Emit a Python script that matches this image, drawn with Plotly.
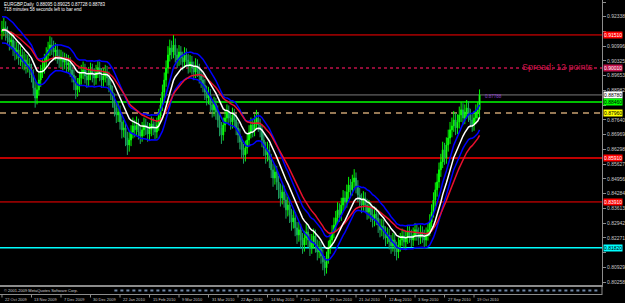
import plotly.graph_objects as go
import pandas as pd

# ---------------- data ----------------
header_text = "EURGBP,Daily  0.88095 0.89025 0.87728 0.88783"
timer_text = "718 minutes 58 seconds left to bar end"
spread_text = "Spread: 12 points"
copyright_text = "© 2001-2009 MetaQuotes Software Corp."
last_tag_text = "0.87788"

first_open_pips = 9165
close_pips = [
    9174, 9183, 9160, 9137, 9119, 9128, 9092, 9073, 9083, 9046,
    9060, 9028, 9037, 9010, 9019, 8992, 8969, 8910, 8864, 8901,
    8946, 8982, 9001, 9028, 9060, 9083, 9105, 9092, 9073, 9083,
    9055, 9037, 9046, 9028, 9037, 9014, 9023, 8992, 8969, 8937,
    8901, 8919, 8955, 8982, 8992, 8964, 8946, 8973, 8992, 8969,
    8955, 8982, 9001, 8973, 8946, 8964, 8982, 8955, 8923, 8891,
    8855, 8819, 8787, 8800, 8755, 8719, 8728, 8682, 8650, 8673,
    8709, 8737, 8719, 8741, 8709, 8691, 8719, 8741, 8728, 8700,
    8719, 8746, 8728, 8709, 8741, 8782, 8832, 8891, 8946, 9001,
    9060, 9092, 9073, 9105, 9060, 9037, 9073, 9046, 9028, 9060,
    9037, 9010, 9028, 9001, 8982, 9010, 8992, 8964, 8946, 8923,
    8891, 8864, 8878, 8832, 8810, 8837, 8800, 8764, 8728, 8696,
    8741, 8773, 8800, 8773, 8755, 8787, 8764, 8728, 8696, 8664,
    8628, 8605, 8637, 8673, 8709, 8741, 8719, 8755, 8773, 8741,
    8719, 8673, 8637, 8605, 8628, 8582, 8537, 8500, 8527, 8482,
    8446, 8409, 8436, 8400, 8355, 8377, 8332, 8300, 8318, 8273,
    8241, 8264, 8218, 8195, 8227, 8254, 8218, 8182, 8209, 8236,
    8195, 8163, 8182, 8145, 8118, 8091, 8136, 8182, 8218, 8254,
    8286, 8318, 8355, 8332, 8377, 8409, 8391, 8436, 8468, 8446,
    8482, 8500, 8464, 8423, 8400, 8377, 8409, 8377, 8345, 8364,
    8332, 8309, 8336, 8318, 8286, 8264, 8282, 8254, 8227, 8241,
    8209, 8191, 8218, 8182, 8163, 8195, 8218, 8236, 8209, 8227,
    8254, 8236, 8218, 8241, 8264, 8245, 8227, 8254, 8236, 8218,
    8241, 8264, 8300, 8345, 8400, 8446, 8482, 8537, 8573, 8628,
    8591, 8650, 8682, 8719, 8737, 8764, 8728, 8755, 8787, 8810,
    8773, 8800, 8819, 8787, 8764, 8741, 8773, 8800, 8810, 8878,
]
high_pips = [
    9215, 9230, 9213, 9190, 9165, 9167, 9155, 9125, 9120, 9110,
    9100, 9087, 9075, 9065, 9060, 9045, 9020, 8995, 8940, 8935,
    8980, 9015, 9040, 9065, 9095, 9120, 9145, 9140, 9125, 9115,
    9110, 9085, 9083, 9075, 9070, 9065, 9060, 9050, 9020, 8995,
    8965, 8955, 8985, 9015, 9030, 9020, 8990, 9005, 9025, 9020,
    9000, 9015, 9035, 9030, 9000, 9000, 9015, 9010, 8985, 8950,
    8920, 8885, 8845, 8840, 8830, 8785, 8765, 8755, 8710, 8710,
    8740, 8775, 8765, 8780, 8770, 8735, 8755, 8775, 8770, 8755,
    8750, 8780, 8775, 8755, 8775, 8815, 8865, 8925, 8980, 9035,
    9100, 9130, 9125, 9150, 9135, 9090, 9105, 9100, 9075, 9095,
    9090, 9065, 9060, 9055, 9030, 9045, 9040, 9020, 8995, 8975,
    8950, 8920, 8915, 8905, 8860, 8870, 8865, 8830, 8790, 8755,
    8775, 8805, 8835, 8830, 8800, 8820, 8815, 8790, 8755, 8725,
    8690, 8655, 8670, 8705, 8740, 8775, 8770, 8790, 8810, 8800,
    8770, 8745, 8700, 8665, 8665, 8655, 8610, 8565, 8560, 8555,
    8510, 8475, 8470, 8465, 8430, 8415, 8405, 8360, 8355, 8345,
    8300, 8300, 8290, 8250, 8260, 8290, 8280, 8245, 8245, 8270,
    8265, 8220, 8215, 8210, 8175, 8145, 8165, 8215, 8250, 8285,
    8320, 8350, 8390, 8385, 8410, 8445, 8440, 8470, 8505, 8495,
    8515, 8540, 8525, 8490, 8455, 8430, 8440, 8435, 8405, 8400,
    8390, 8360, 8370, 8365, 8345, 8315, 8315, 8310, 8280, 8275,
    8270, 8240, 8250, 8245, 8210, 8230, 8250, 8270, 8265, 8260,
    8285, 8280, 8265, 8275, 8295, 8290, 8275, 8285, 8280, 8265,
    8275, 8295, 8335, 8380, 8435, 8480, 8520, 8570, 8610, 8665,
    8660, 8685, 8720, 8755, 8775, 8805, 8795, 8790, 8825, 8845,
    8840, 8835, 8855, 8850, 8815, 8795, 8805, 8835, 8845, 8903,
]
low_pips = [
    9130, 9145, 9125, 9105, 9080, 9085, 9055, 9035, 9040, 9015,
    9010, 8995, 8990, 8975, 8980, 8955, 8935, 8875, 8820, 8835,
    8875, 8915, 8955, 8975, 9000, 9030, 9055, 9060, 9040, 9035,
    9020, 9000, 9005, 8990, 8995, 8980, 8983, 8960, 8935, 8900,
    8860, 8870, 8890, 8925, 8950, 8930, 8910, 8915, 8945, 8935,
    8920, 8925, 8955, 8940, 8910, 8915, 8935, 8920, 8890, 8855,
    8820, 8780, 8750, 8755, 8720, 8680, 8685, 8645, 8605, 8620,
    8645, 8680, 8685, 8690, 8675, 8655, 8665, 8690, 8695, 8665,
    8670, 8690, 8695, 8675, 8680, 8715, 8755, 8805, 8865, 8915,
    8975, 9030, 9040, 9045, 9025, 9000, 9010, 9015, 8990, 9000,
    9005, 8975, 8980, 8970, 8945, 8955, 8960, 8930, 8910, 8890,
    8855, 8830, 8835, 8800, 8775, 8780, 8765, 8730, 8690, 8655,
    8670, 8710, 8745, 8740, 8720, 8725, 8730, 8695, 8660, 8630,
    8590, 8565, 8575, 8610, 8645, 8680, 8685, 8690, 8725, 8710,
    8685, 8640, 8600, 8565, 8575, 8545, 8500, 8460, 8470, 8445,
    8405, 8370, 8380, 8365, 8315, 8325, 8295, 8260, 8270, 8235,
    8200, 8210, 8180, 8155, 8165, 8195, 8185, 8145, 8155, 8180,
    8160, 8125, 8135, 8110, 8080, 8055, 8065, 8110, 8155, 8190,
    8225, 8260, 8290, 8300, 8305, 8350, 8360, 8365, 8405, 8415,
    8420, 8455, 8430, 8390, 8365, 8340, 8350, 8345, 8310, 8315,
    8300, 8275, 8280, 8285, 8250, 8230, 8235, 8220, 8190, 8200,
    8175, 8155, 8165, 8145, 8125, 8135, 8165, 8190, 8175, 8180,
    8200, 8205, 8185, 8190, 8215, 8215, 8195, 8200, 8205, 8185,
    8190, 8215, 8235, 8275, 8320, 8370, 8415, 8455, 8505, 8545,
    8560, 8565, 8620, 8655, 8685, 8710, 8695, 8700, 8725, 8755,
    8740, 8745, 8770, 8755, 8730, 8710, 8715, 8745, 8770, 8773,
]

date_labels = ["22 Oct 2009", "13 Nov 2009", "7 Dec 2009", "30 Dec 2009",
               "22 Jan 2010", "15 Feb 2010", "9 Mar 2010", "31 Mar 2010",
               "22 Apr 2010", "14 May 2010", "7 Jun 2010", "29 Jun 2010",
               "21 Jul 2010", "12 Aug 2010", "3 Sep 2010", "27 Sep 2010",
               "19 Oct 2010"]
date_label_bars = [0, 16, 32, 48, 64, 80, 96, 112, 128, 144, 160, 176,
                   192, 208, 224, 240, 256]

y_tick_values = [0.93009, 0.92338, 0.91667, 0.90996, 0.90325, 0.89653,
                 0.88982, 0.88311, 0.87640, 0.86969, 0.86298, 0.85627,
                 0.84956, 0.84284, 0.83613, 0.82942, 0.82271, 0.81600,
                 0.80929, 0.80258]
# tick labels hidden behind the coloured price tags
y_tick_hidden = [0.91667, 0.88311, 0.81600]

level_red_top = 0.9151
level_pivot = 0.9001
level_green = 0.8846
level_dashed = 0.8796
level_red_mid = 0.8591
level_red_low = 0.8391
level_cyan = 0.8182

envelope_pct = 0.65

# ---------------- derived series ----------------
closes = [v / 10000 for v in close_pips]
highs = [v / 10000 for v in high_pips]
lows = [v / 10000 for v in low_pips]
opens = [first_open_pips / 10000] + closes[:-1]
bars = list(range(len(closes)))
bid = closes[-1]

white_ma = pd.Series(closes).ewm(span=13, adjust=False).mean()
red_ma = pd.Series(closes).ewm(span=25, adjust=False).mean()
blue_hi = white_ma * (1 + envelope_pct / 100)
blue_lo = white_ma * (1 - envelope_pct / 100)

FONT = "Liberation Sans"
PLOT_H = 285.0

def py(px):  # pixel row -> paper y (main plot is 285 px tall)
    return 1 - px / PLOT_H

fig = go.Figure()
fig.add_trace(go.Candlestick(
    x=bars, open=opens, high=highs, low=lows, close=closes,
    increasing=dict(line=dict(color="#00FF00", width=1), fillcolor="#A8F5A8"),
    decreasing=dict(line=dict(color="#1FA463", width=1), fillcolor="#1FA463"),
    whiskerwidth=0, hoverinfo="skip", showlegend=False))
for series, color in [(blue_hi, "#0000FF"), (blue_lo, "#0000FF"),
                      (red_ma, "#E8102E"), (white_ma, "#FFFFFF")]:
    fig.add_trace(go.Scatter(x=bars, y=list(series), mode="lines",
                             line=dict(color=color, width=1.5),
                             hoverinfo="skip", showlegend=False))

levels = [
    (level_red_top, "#FF0000", 1, "solid"),
    (level_pivot, "#C0104A", 1.5, "dot"),
    (bid, "#7A7A7A", 1, "solid"),
    (level_green, "#00FF00", 1.5, "solid"),
    (level_dashed, "#C8A070", 1.5, "6px,5px"),
    (level_red_mid, "#FF0000", 1.5, "solid"),
    (level_red_low, "#FF0000", 1, "solid"),
    (level_cyan, "#00FFFF", 1.5, "solid"),
]
shapes = []
for val, color, w, dash in levels:
    shapes.append(dict(type="line", xref="paper", x0=0, x1=1, yref="y",
                       y0=val, y1=val, layer="below",
                       line=dict(color=color, width=w, dash=dash)))

# lower (indicator) strip
shapes.append(dict(type="line", xref="paper", x0=0, x1=1, yref="paper",
                   y0=py(286), y1=py(286), line=dict(color="#8C8C8C", width=2)))
shapes.append(dict(type="line", xref="paper", x0=0.19, x1=0.995, yref="paper",
                   y0=py(290.5), y1=py(290.5),
                   line=dict(color="#7088A8", width=2, dash="dot")))
shapes.append(dict(type="line", xref="paper", x0=0, x1=1, yref="paper",
                   y0=py(294.5), y1=py(294.5), line=dict(color="#8C8C8C", width=1)))
shapes.append(dict(type="line", xref="paper", x0=1, x1=1, yref="paper",
                   y0=py(285), y1=py(295), line=dict(color="#8C8C8C", width=1)))
for b in date_label_bars:
    shapes.append(dict(type="line", xref="x", x0=b, x1=b, yref="paper",
                       y0=py(294.5), y1=py(297.5),
                       line=dict(color="#8C8C8C", width=1)))

annotations = []
for b, lab in zip(date_label_bars, date_labels):
    annotations.append(dict(x=b, xref="x", y=py(299), yref="paper", text=lab,
                            showarrow=False, xanchor="left", yanchor="middle",
                            xshift=1, font=dict(size=4, color="#C8C8C8", family=FONT)))
annotations.append(dict(x=0.004, xref="paper", y=py(4), yref="paper",
                        text=header_text, showarrow=False, xanchor="left",
                        yanchor="middle", font=dict(size=4.5, color="#FFFFFF", family=FONT)))
annotations.append(dict(x=0.004, xref="paper", y=py(9.5), yref="paper",
                        text=timer_text, showarrow=False, xanchor="left",
                        yanchor="middle", font=dict(size=4.5, color="#FFFFFF", family=FONT)))
annotations.append(dict(x=0.003, xref="paper", y=py(290.5), yref="paper",
                        text=copyright_text, showarrow=False, xanchor="left",
                        yanchor="middle", font=dict(size=4, color="#D0D0D0", family=FONT)))
annotations.append(dict(x=600 / 607, xref="paper", y=level_pivot, yref="y",
                        text=spread_text, showarrow=False, xanchor="right",
                        yanchor="middle", yshift=1,
                        font=dict(size=9, color="#D0154A", family=FONT)))
annotations.append(dict(x=len(closes) + 1, xref="x", y=bid, yref="y",
                        text=last_tag_text, showarrow=False, xanchor="left",
                        yanchor="middle", yshift=-2,
                        font=dict(size=4.5, color="#9040D0", family=FONT)))

tag_styles = [
    (level_red_top, "#FF0000", "#FFFFFF"),
    (level_pivot, "#C0104A", "#FFFFFF"),
    (bid, "#FFFFFF", "#000000"),
    (level_green, "#00FF00", "#000000"),
    (level_dashed, "#FFFF00", "#000000"),
    (level_red_mid, "#FF0000", "#FFFFFF"),
    (level_red_low, "#FF0000", "#FFFFFF"),
    (level_cyan, "#00FFFF", "#000000"),
]
for val, bg, fg in tag_styles:
    annotations.append(dict(x=1, xref="paper", y=val, yref="y",
                            text=f"{val:.5f}", showarrow=False, xanchor="left",
                            yanchor="middle", xshift=1, bgcolor=bg, borderpad=0,
                            font=dict(size=5, color=fg, family=FONT)))

fig.update_layout(
    width=625, height=303,
    margin=dict(l=0, r=18, t=0, b=18),
    paper_bgcolor="#000000", plot_bgcolor="#000000",
    showlegend=False,
    shapes=shapes, annotations=annotations,
    xaxis=dict(range=[-1.076, 325.4], showticklabels=False, showgrid=False,
               zeroline=False, showline=True, linecolor="#8C8C8C", linewidth=2,
               ticks="", rangeslider=dict(visible=False), fixedrange=True),
    yaxis=dict(range=[0.8013, 0.9310], side="right", tickvals=y_tick_values,
               ticktext=["" if v in y_tick_hidden else f"{v:.5f}" for v in y_tick_values],
               tickfont=dict(size=5, color="#C8C8C8", family=FONT),
               ticks="outside", ticklen=3, tickcolor="#8C8C8C",
               showline=True, linecolor="#8C8C8C", linewidth=1,
               showgrid=False, zeroline=False, fixedrange=True),
)

fig.write_html("out.html")
